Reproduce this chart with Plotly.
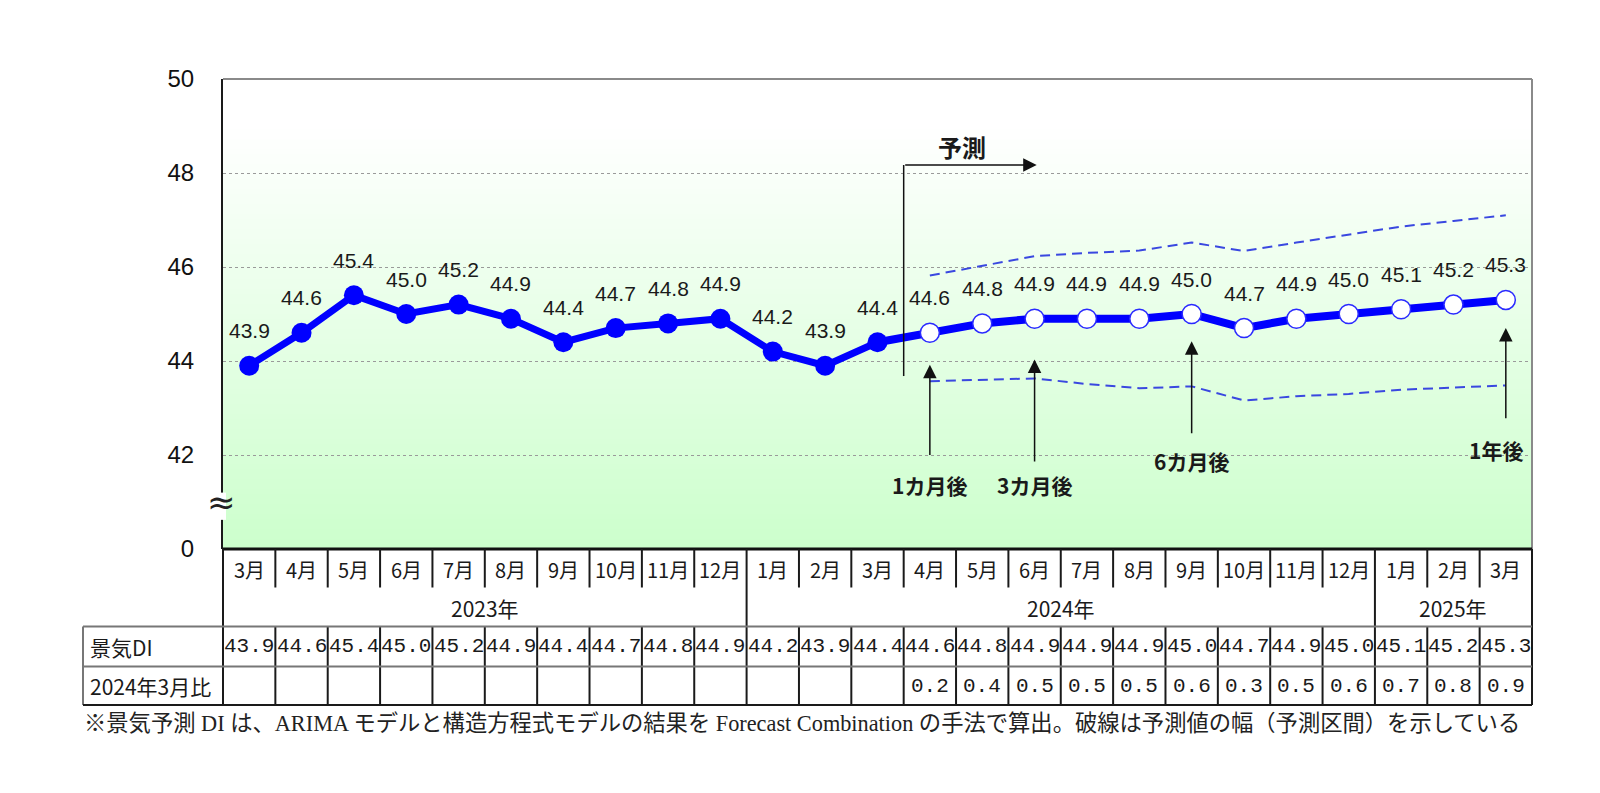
import plotly.graph_objects as go

# ---------------- data ----------------
months = ["3月", "4月", "5月", "6月", "7月", "8月", "9月", "10月", "11月", "12月",
          "1月", "2月", "3月", "4月", "5月", "6月", "7月", "8月", "9月", "10月",
          "11月", "12月", "1月", "2月", "3月"]
years = ["2023年", "2024年", "2025年"]
year_first = [0, 10, 22]
year_last = [9, 21, 24]
di = [43.9, 44.6, 45.4, 45.0, 45.2, 44.9, 44.4, 44.7, 44.8, 44.9, 44.2, 43.9, 44.4,
      44.6, 44.8, 44.9, 44.9, 44.9, 45.0, 44.7, 44.9, 45.0, 45.1, 45.2, 45.3]
vs_mar2024 = [None] * 13 + [0.2, 0.4, 0.5, 0.5, 0.5, 0.6, 0.3, 0.5, 0.6, 0.7, 0.8, 0.9]
n_actual = 13
upper = [45.82, 46.02, 46.23, 46.30, 46.35, 46.52, 46.34, 46.52, 46.69, 46.86, 46.98, 47.10]
lower = [43.57, 43.60, 43.63, 43.51, 43.42, 43.46, 43.16, 43.25, 43.30, 43.39, 43.44, 43.48]
ytick_vals = [40, 42, 44, 46, 48, 50]          # 40 is the broken-axis "0"
ytick_text = ["0", "42", "44", "46", "48", "50"]
row_labels = ["景気DI", "2024年3月比"]
footnote = ("※景気予測 DI は、ARIMA モデルと構造方程式モデルの結果を Forecast Combination "
            "の手法で算出。破線は予測値の幅（予測区間）を示している")
callouts = [("1カ月後", 13, 43.92, 41.97, 41.37, 0),
            ("3カ月後", 15, 44.03, 41.83, 41.37, 0),
            ("6カ月後", 18, 44.42, 42.43, 41.87, 0),
            ("1年後", 24, 44.70, 42.75, 42.11, -10)]

# ---------------- layout geometry ----------------
# page body has an 8px margin; figure sized to fit the 1600x793 window
BODY = 8
W, H = 1600 - BODY, 793 - BODY
ML, MT, PW, PH = 215, 71, 1309, 470
MR = W - ML - PW
MB = H - MT - PH
N = len(months)
JP = "Noto Sans CJK JP"
AR = "Liberation Sans, Arial"
MONO = "Liberation Mono, DejaVu Sans Mono"
TXT = "#1a1a1a"


def py(p):  # page pixel y -> paper y
    return (H - MB - (p - BODY)) / PH


def pxx(p):  # page pixel x -> paper x
    return (p - BODY - ML) / PW


def bx(b):  # category boundary (index units) -> paper x
    return (b + 0.5) / N


fig = go.Figure()

# ---------------- series ----------------
fc_x = list(range(n_actual, N))
band_line = dict(color="#3a48e0", width=2, dash="10px,6px")
fig.add_trace(go.Scatter(x=fc_x, y=upper, mode="lines", line=band_line,
                         hoverinfo="skip", showlegend=False))
fig.add_trace(go.Scatter(x=fc_x, y=lower, mode="lines", line=band_line,
                         hoverinfo="skip", showlegend=False))
fig.add_trace(go.Scatter(x=list(range(n_actual - 1, N)), y=di[n_actual - 1:], mode="lines",
                         line=dict(color="#0000ff", width=8), showlegend=False))
fig.add_trace(go.Scatter(x=list(range(n_actual)), y=di[:n_actual], mode="lines+markers",
                         line=dict(color="#0000ff", width=7),
                         marker=dict(size=20, color="#0000ff"), showlegend=False))
fig.add_trace(go.Scatter(x=fc_x, y=di[n_actual:], mode="markers",
                         marker=dict(size=19, color="#ffffff",
                                     line=dict(color="#2a2aff", width=1.5)),
                         showlegend=False))

shapes = []
# gradient background (white near top -> light green at bottom)
nb = 94
for k in range(nb):
    t = (k + 0.5) / nb
    g = max(0.0, 1 - t / 0.9)
    c = round(255 - (255 - 204) * g)
    shapes.append(dict(type="rect", xref="paper", yref="paper", x0=0, x1=1,
                       y0=k / nb, y1=(k + 1) / nb, layer="below", line=dict(width=0),
                       fillcolor=f"rgb({c},255,{c})"))

line_dark = dict(color="#1a1a1a", width=2)
line_gray = dict(color="#777777", width=2)
# plot borders
shapes.append(dict(type="line", xref="paper", yref="paper", x0=0, x1=1, y0=1, y1=1,
                   line=dict(color="#8a8a8a", width=2)))
shapes.append(dict(type="line", xref="paper", yref="paper", x0=1, x1=1, y0=0, y1=1,
                   line=dict(color="#8a8a8a", width=2)))
shapes.append(dict(type="line", xref="paper", yref="paper", x0=0, x1=1, y0=0, y1=0,
                   line=dict(color="#111111", width=3)))
# axis break gap
shapes.append(dict(type="rect", xref="paper", yref="y", x0=pxx(215), x1=pxx(226),
                   y0=40.62, y1=41.2, line=dict(width=0), fillcolor="#ffffff"))

# forecast bracket (vertical part)
shapes.append(dict(type="line", xref="x", yref="y", x0=n_actual - 0.5, x1=n_actual - 0.5,
                   y0=43.68, y1=48.17, line=dict(color="#111111", width=1.5)))

# ---------------- table lines ----------------
y_top, y_msep, y_di, y_rt, y_bot = 549, 587.5, 626.5, 666.5, 705
x_lab = pxx(83)
year_bounds = [year_last[i] + 0.5 for i in range(len(years) - 1)]
for i in range(1, N):
    b = i - 0.5
    yend = y_di if b in year_bounds else y_msep
    shapes.append(dict(type="line", xref="paper", yref="paper", x0=bx(b), x1=bx(b),
                       y0=py(y_top), y1=py(yend), line=line_dark))
    shapes.append(dict(type="line", xref="paper", yref="paper", x0=bx(b), x1=bx(b),
                       y0=py(y_di), y1=py(y_bot), line=line_dark))
for xx in (0, 1):
    shapes.append(dict(type="line", xref="paper", yref="paper", x0=xx, x1=xx,
                       y0=py(y_top), y1=py(y_bot), line=line_dark))
shapes.append(dict(type="line", xref="paper", yref="paper", x0=x_lab, x1=x_lab,
                   y0=py(y_di), y1=py(y_bot), line=line_gray))
for yy, ln in ((y_di, line_gray), (y_rt, line_gray), (y_bot, line_dark)):
    shapes.append(dict(type="line", xref="paper", yref="paper", x0=x_lab, x1=1,
                       y0=py(yy), y1=py(yy), line=ln))

# ---------------- annotations ----------------
ann = []


def txt(x, y, text, xref, yref, font, xanchor="center", **kw):
    ann.append(dict(x=x, y=y, xref=xref, yref=yref, text=text, showarrow=False,
                    xanchor=xanchor, yanchor="middle", font=font, **kw))


for i, v in enumerate(di):
    txt(i, v, f"{v:.1f}", "x", "y", dict(family=AR, size=21, color=TXT), yshift=35)
# table text
for i, m in enumerate(months):
    txt(i, py(569), m, "x", "paper", dict(family=JP, size=20, color=TXT))
    txt(i, py(646.5), f"{di[i]:.1f}", "x", "paper", dict(family=MONO, size=21, color=TXT))
    if vs_mar2024[i] is not None:
        txt(i, py(686), f"{vs_mar2024[i]:.1f}", "x", "paper",
            dict(family=MONO, size=21, color=TXT))
for yl, a, b in zip(years, year_first, year_last):
    txt((a + b) / 2, py(608), yl, "x", "paper", dict(family=JP, size=21, color=TXT))
for lab, yy in zip(row_labels, (646.5, 686)):
    txt(pxx(88), py(yy), lab, "paper", "paper", dict(family=JP, size=21, color=TXT),
        xanchor="left")
txt(pxx(82), py(723), footnote, "paper", "paper",
    dict(family="Liberation Serif, Noto Sans CJK JP", size=22.3, color="#222222"),
    xanchor="left")
# axis break symbol
txt(pxx(221), 41.0, "≈", "paper", "y", dict(family="DejaVu Sans", size=34, color="#222222"))
# forecast label + arrow
ann.append(dict(x=15.04, y=48.17, ax=n_actual - 0.5, ay=48.17, xref="x", yref="y",
                axref="x", ayref="y", text="", showarrow=True, arrowhead=2,
                arrowsize=1.8, arrowwidth=1.5, arrowcolor="#111111"))
txt(13.61, 48.56, "<b>予測</b>", "x", "y", dict(family=JP, size=24, color=TXT))
for t_, xi, tip, tail, ty, dx in callouts:
    ann.append(dict(x=xi, y=tip, ax=xi, ay=tail, xref="x", yref="y", axref="x", ayref="y",
                    text="", showarrow=True, arrowhead=2, arrowsize=1.8, arrowwidth=1.5,
                    arrowcolor="#111111"))
    txt(xi, ty, f"<b>{t_}</b>", "x", "y", dict(family=JP, size=21, color=TXT), xshift=dx)

fig.update_layout(
    width=W, height=H,
    margin=dict(l=ML, r=MR, t=MT, b=MB),
    paper_bgcolor="#ffffff", plot_bgcolor="#ffffff",
    shapes=shapes, annotations=ann, showlegend=False,
    xaxis=dict(range=[-0.5, N - 0.5], showticklabels=False, showgrid=False,
               zeroline=False, showline=False, fixedrange=True),
    yaxis=dict(range=[40, 50], tickvals=ytick_vals, ticktext=ytick_text,
               showgrid=True, gridcolor="#9a9a9a", griddash="dot", gridwidth=1,
               zeroline=False, showline=True, linecolor="#1a1a1a", linewidth=2,
               ticks="", ticklabelstandoff=22,
               tickfont=dict(family=AR, size=24, color="#111111")),
)

fig.write_html("out.html")
